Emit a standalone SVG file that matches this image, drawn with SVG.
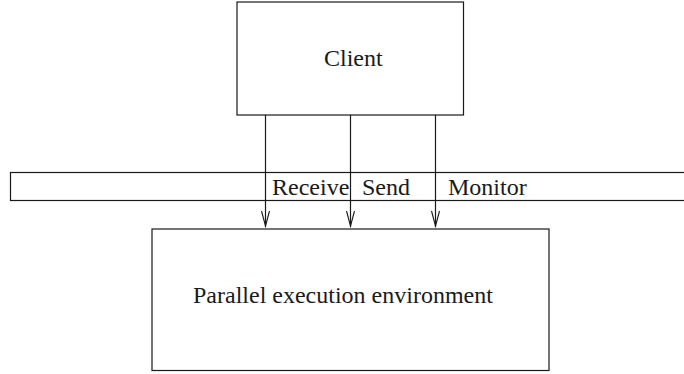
<svg xmlns="http://www.w3.org/2000/svg" width="684" height="374" viewBox="0 0 684 374">
  <style>
    .box { fill: #ffffff; stroke: #1a1a1a; stroke-width: 1.2; }
    .lbl { font-family: 'Liberation Serif', 'Times New Roman', Times, 'DejaVu Serif', serif; font-size: 24px; fill: #1a1a1a; }
    .wire { stroke: #1a1a1a; stroke-width: 1.2; fill: none; }
    .head { stroke: #1a1a1a; stroke-width: 1.1; fill: none; }
  </style>
  <rect width="684" height="374" fill="#ffffff"/>

  <!-- interface band across the page -->
  <g id="interface">
    <rect class="box" x="10.5" y="172.5" width="680" height="28"/>
    <text class="lbl" x="272" y="195">Receive</text>
    <text class="lbl" x="362" y="195">Send</text>
    <text class="lbl" x="448" y="195">Monitor</text>
  </g>

  <g id="client">
    <rect class="box" x="237" y="2" width="226.5" height="113"/>
    <text class="lbl" x="324" y="66">Client</text>
  </g>

  <g id="environment">
    <rect class="box" x="152" y="229" width="397" height="141.5"/>
    <text class="lbl" x="193" y="303">Parallel execution environment</text>
  </g>

  <!-- calls from the client down into the environment -->
  <g id="connectors">
    <line class="wire" x1="265.5" y1="115" x2="265.5" y2="227"/>
    <polyline class="head" points="261.5,211 265.5,226 269.5,211"/>
    <line class="wire" x1="350.5" y1="115" x2="350.5" y2="227"/>
    <polyline class="head" points="346.5,211 350.5,226 354.5,211"/>
    <line class="wire" x1="435.5" y1="115" x2="435.5" y2="227"/>
    <polyline class="head" points="431.5,211 435.5,226 439.5,211"/>
  </g>
</svg>
